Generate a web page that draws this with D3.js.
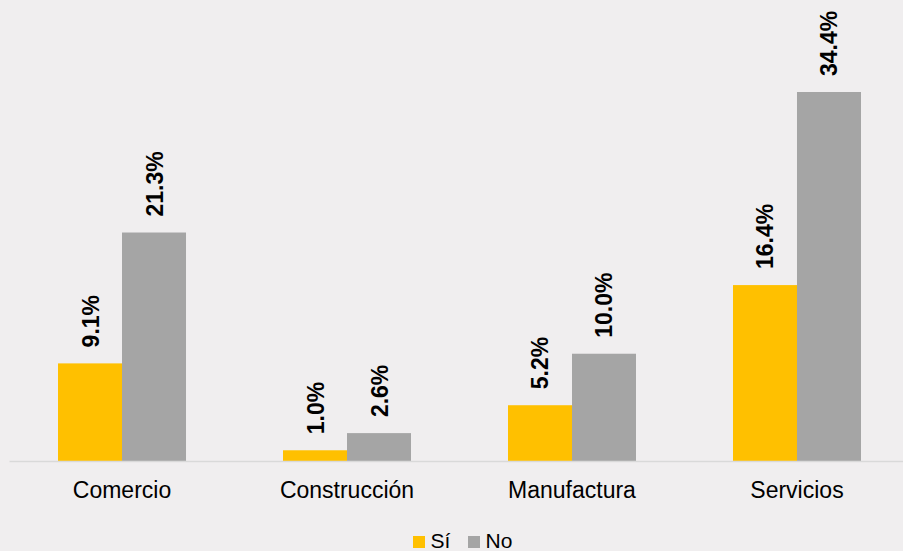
<!DOCTYPE html>
<html><head><meta charset="utf-8">
<script src="https://cdn.jsdelivr.net/npm/d3@7"></script>
<style>body{margin:0;background:#F0EEEF;}svg{display:block;font-family:"Liberation Sans",Arial,sans-serif;}</style>
</head><body><svg id="c" width="903" height="551"></svg>
<script>
const categories = ["Comercio","Construcción","Manufactura","Servicios"];
const seriesNames = ["Sí","No"];
const siValues = [9.1,1.0,5.2,16.4];
const noValues = [21.3,2.6,10.0,34.4];
const colors = ["#FFC000","#A5A5A5"];

const svg = d3.select("#c");
svg.append("rect").attr("width",903).attr("height",551).attr("fill","#F0EEEF");
const left=9.5,base=461;
const x0 = d3.scaleBand().domain(categories).range([left,left+900]).paddingInner(0.4311).paddingOuter(0.2156);
const x1 = d3.scaleBand().domain(seriesNames).range([0,x0.bandwidth()]);
const y = d3.scaleLinear().domain([0,34.4]).range([base,92]);
const data = categories.map((c,i)=>({c, vals:[siValues[i],noValues[i]]}));

const g = svg.append("g");
data.forEach(d=>{
  d.vals.forEach((v,j)=>{
    const xs = x0(d.c)+x1(seriesNames[j]);
    g.append("rect").attr("x",xs).attr("y",y(v)).attr("width",x1.bandwidth()).attr("height",base-y(v)).attr("fill",colors[j]);
    const cx = xs+x1.bandwidth()/2;
    g.append("text").attr("transform",`translate(${cx+8.5},${y(v)-16}) rotate(-90)`)
      .attr("font-size",23).attr("font-weight","bold").attr("fill","#000").text(v.toFixed(1)+"%");
  });
});
svg.append("line").attr("x1",left).attr("x2",903).attr("y1",base+0.5).attr("y2",base+0.5).attr("stroke","#D9D9D9").attr("stroke-width",1.5);
categories.forEach(c=>{
  svg.append("text").attr("x",x0(c)+x0.bandwidth()/2).attr("y",498).attr("text-anchor","middle").attr("font-size",23).attr("fill","#000").text(c);
});
const leg = svg.append("g");
const lx=[413,468];
seriesNames.forEach((s,j)=>{
  leg.append("rect").attr("x",lx[j]).attr("y",536).attr("width",12).attr("height",12).attr("fill",colors[j]);
  leg.append("text").attr("x",lx[j]+17.5).attr("y",548).attr("font-size",21).attr("fill","#000").text(s);
});
</script></body></html>
